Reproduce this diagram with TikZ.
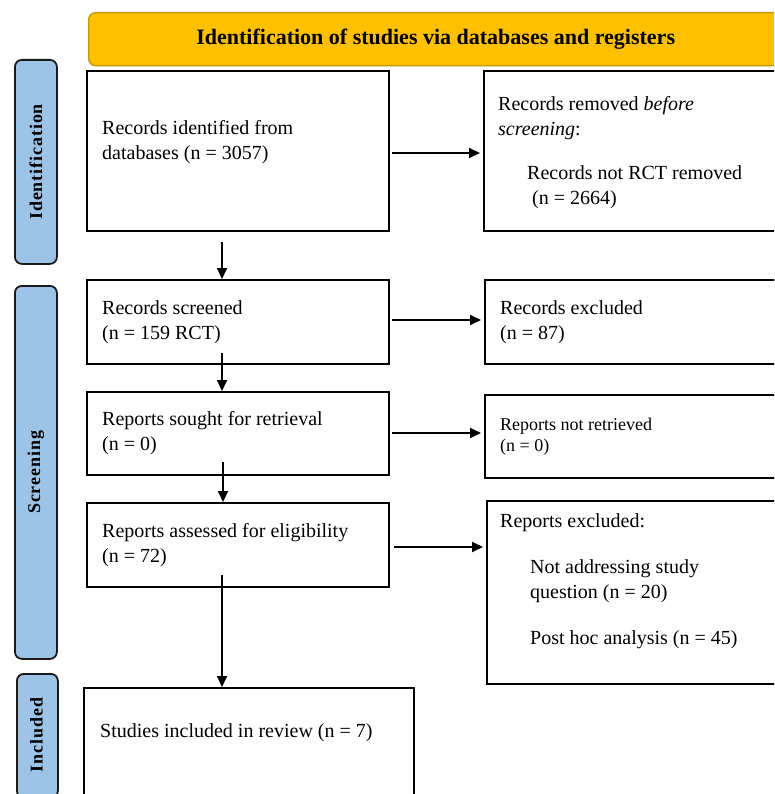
\documentclass[tikz,border=0pt]{standalone}
\usepackage{fontspec}
\setmainfont{Liberation Serif}
\newfontfamily\labfont[LetterSpace=5]{Liberation Serif}
\usetikzlibrary{arrows.meta}
\definecolor{hdrfill}{HTML}{FFC000}
\definecolor{hdrline}{HTML}{C49A00}
\definecolor{labfill}{HTML}{9DC3E6}
\definecolor{labline}{HTML}{1A1A1A}
\begin{document}
\begin{tikzpicture}[x=1pt,y=-1pt,
  boxnode/.style={draw=black, line width=1.8pt, fill=white, anchor=north west, inner sep=0pt},
  hdrnode/.style={draw=hdrline, line width=1.4pt, fill=hdrfill, rounded corners=7pt, anchor=north west, inner sep=0pt, font=\fontsize{22}{26}\selectfont\bfseries},
  labnode/.style={draw=labline, line width=1.8pt, fill=labfill, rounded corners=7pt, anchor=north west, inner sep=0pt},
  labtext/.style={rotate=90, inner sep=0pt, font=\fontsize{18}{20}\selectfont\labfont\bfseries},
  txt/.style={inner sep=0pt, anchor=west, align=left, font=\fontsize{20}{25}\selectfont},
  smalltxt/.style={inner sep=0pt, anchor=west, align=left, font=\fontsize{18}{21}\selectfont},
  arr/.style={line width=1.8pt, -{Triangle[length=11pt,width=10pt]}}
]
\clip (0,0) rectangle (774,794);
\fill[white] (0,0) rectangle (774,794);

% header
\node[hdrnode, minimum width=694pt, minimum height=53pt] (hdr) at (88,12) {Identification of studies via databases and registers};

% side labels
\node[labnode, minimum width=42pt, minimum height=204pt] (lab1) at (14,59) {};
\node[labtext] (lab1t) at (lab1.center) {Identification};
\node[labnode, minimum width=42pt, minimum height=373pt] (lab2) at (14,285) {};
\node[labtext] (lab2t) at (lab2.center) {Screening};
\node[labnode, minimum width=41pt, minimum height=124pt] (lab3) at (16,673) {};
\node[labtext] (lab3t) at (36.5,735) {Included};

% boxes
\node[boxnode, minimum width=302pt, minimum height=160pt] (b1) at (86,70) {};
\node[boxnode, minimum width=320pt, minimum height=160pt] (r1) at (483,70) {};
\node[boxnode, minimum width=302pt, minimum height=84pt] (b2) at (86,279) {};
\node[boxnode, minimum width=320pt, minimum height=84pt] (r2) at (484,279) {};
\node[boxnode, minimum width=302pt, minimum height=83pt] (b3) at (86,391) {};
\node[boxnode, minimum width=320pt, minimum height=83pt] (r3) at (484,394) {};
\node[boxnode, minimum width=302pt, minimum height=84pt] (b4) at (86,502) {};
\node[boxnode, minimum width=320pt, minimum height=183pt] (r4) at (486,500) {};
\node[boxnode, minimum width=330pt, minimum height=150pt] (b5) at (83,687) {};

% texts
\node[txt] (t1) at (102,142.5) {Records identified from\\databases (n = 3057)};
\node[txt] (tr1a) at (498,118) {Records removed \textit{before}\\\textit{screening}:};
\node[txt] (tr1b) at (527,187.5) {Records not RCT removed\\\hspace{5pt}(n = 2664)};
\node[txt] (t2) at (102,322.5) {Records screened\\(n = 159 RCT)};
\node[txt] (tr2) at (500,322.5) {Records excluded\\(n = 87)};
\node[txt] (t3) at (102,433.5) {Reports sought for retrieval\\(n = 0)};
\node[smalltxt] (tr3) at (500,436.5) {Reports not retrieved\\(n = 0)};
\node[txt] (t4) at (102,545) {Reports assessed for eligibility\\(n = 72)};
\node[txt] (tr4a) at (500,523) {Reports excluded:};
\node[txt] (tr4b) at (530,581.5) {Not addressing study\\question (n = 20)};
\node[txt] (tr4c) at (530,640) {Post hoc analysis (n = 45)};
\node[txt] (t5) at (100,733) {Studies included in review (n = 7)};

% vertical arrows
\coordinate (s1) at (222,242);
\coordinate (s2) at (222,353);
\coordinate (s3) at (223,462);
\coordinate (s4) at (222,575);
\draw[arr] (s1) -- (s1 |- b2.north);
\draw[arr] (s2) -- (s2 |- b3.north);
\draw[arr] (s3) -- (s3 |- b4.north);
\draw[arr] (s4) -- (s4 |- b5.north);

% horizontal arrows
\coordinate (h1) at (0,153);
\coordinate (h2) at (0,320);
\coordinate (h3) at (0,433);
\coordinate (h4) at (0,547);
\draw[arr, shorten <=2pt, shorten >=3pt] (b1.east |- h1) -- (r1.west |- h1);
\draw[arr, shorten <=2pt, shorten >=3pt] (b2.east |- h2) -- (r2.west |- h2);
\draw[arr, shorten <=2pt, shorten >=3pt] (b3.east |- h3) -- (r3.west |- h3);
\draw[arr, shorten <=4pt, shorten >=3pt] (b4.east |- h4) -- (r4.west |- h4);
\end{tikzpicture}
\end{document}
